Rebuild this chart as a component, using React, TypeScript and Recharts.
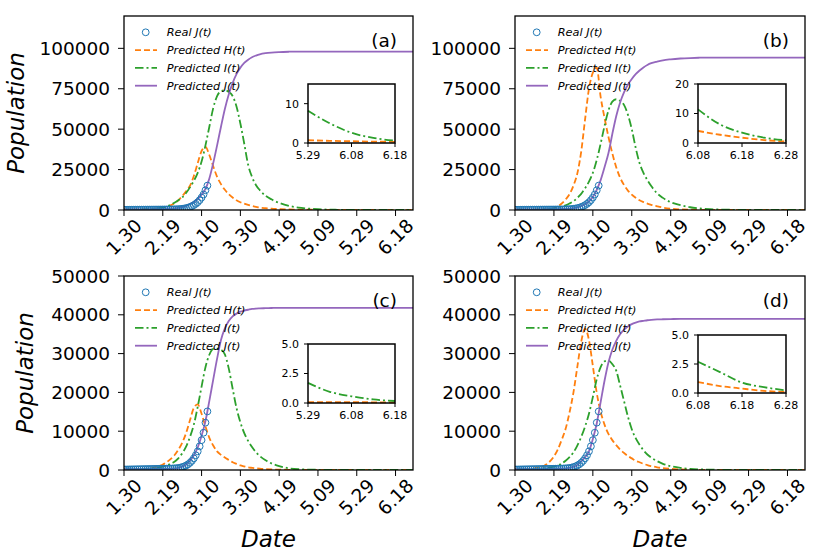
import React from 'react';
import { ComposedChart, Line, Scatter, XAxis, YAxis } from 'recharts';

// day index from 1.30 (Jan 30)
const DAYS = [0, 4, 8, 12, 16, 20, 22, 24, 26, 28, 30, 32, 34, 36, 38, 40, 42, 44, 46, 48, 50, 52, 54, 56, 58, 60, 62, 64, 66, 68, 70, 73, 76, 80, 85, 90, 95, 100, 110, 120, 130, 140, 149];
const X_TICKS = [0, 20, 40, 60, 80, 100, 120, 140];
const X_TICK_LABELS = ['1.30', '2.19', '3.10', '3.30', '4.19', '5.09', '5.29', '6.18'];

const REAL_DAYS = [0, 1, 2, 3, 4, 5, 6, 7, 8, 9, 10, 11, 12, 13, 14, 15, 16, 17, 18, 19, 20, 21, 22, 23, 24, 25, 26, 27, 28, 29, 30, 31, 32, 33, 34, 35, 36, 37, 38, 39, 40, 41, 42, 43];
const REAL_J = [130, 140, 150, 160, 170, 180, 190, 200, 210, 220, 230, 240, 250, 260, 270, 280, 290, 300, 310, 320, 330, 340, 350, 360, 380, 400, 430, 470, 530, 620, 750, 920, 1150, 1450, 1850, 2350, 3000, 3800, 4800, 6100, 7700, 9600, 12200, 15100];

// panel (a)
const A_H = [300, 350, 400, 500, 800, 1400, 2000, 2900, 4200, 6000, 8500, 11500, 15000, 21000, 29000, 36500, 39000, 34000, 27000, 20500, 16000, 12500, 9800, 7700, 6000, 4800, 3900, 3100, 2500, 2000, 1500, 1100, 800, 550, 350, 250, 180, 100, 20, 0.7, 0.45, 0.3, 0.25];
const A_I = [200, 250, 300, 450, 800, 1500, 2200, 3200, 4500, 6000, 7800, 10500, 14000, 18000, 23000, 30000, 40000, 51500, 63000, 70500, 73500, 74000, 73000, 70500, 64000, 53500, 41000, 28000, 20500, 15500, 12300, 8800, 6600, 4400, 2600, 1500, 900, 500, 120, 8.2, 2.6, 0.6, 0.3];
const A_J = [300, 320, 350, 400, 450, 550, 650, 800, 1000, 1300, 1800, 2600, 3700, 5000, 6800, 9500, 13000, 19500, 29000, 40000, 51500, 62500, 71500, 78500, 84000, 88000, 91000, 93000, 94500, 95500, 96300, 97000, 97400, 97700, 97900, 98000, 98000, 98000, 98000, 98000, 98000, 98000, 98000];

// panel (b)
const B_H = [200, 220, 250, 300, 400, 1200, 2300, 4000, 6500, 9800, 15000, 22500, 36000, 56000, 75000, 85000, 88000, 70000, 57000, 45300, 35000, 26500, 20000, 15500, 12000, 9500, 7600, 6000, 4900, 4000, 3200, 2300, 1500, 800, 400, 200, 100, 60, 25, 10, 4.1, 1.8, 0.5];
const B_I = [150, 170, 200, 300, 500, 900, 1400, 2100, 2900, 4000, 5400, 7500, 10000, 13500, 17500, 23000, 31000, 41000, 52000, 61500, 67000, 68500, 67500, 65000, 59000, 50000, 38500, 29000, 23000, 18500, 14800, 10300, 7500, 4800, 3000, 1700, 1000, 550, 150, 40, 11.4, 3.5, 0.9];
const B_J = [300, 320, 350, 380, 420, 500, 560, 640, 750, 880, 1100, 1600, 2500, 3600, 5300, 8000, 12500, 18500, 26500, 35100, 47000, 58000, 66500, 72800, 77500, 81000, 84000, 86300, 88200, 89700, 90800, 91800, 92600, 93200, 93700, 94000, 94200, 94300, 94300, 94300, 94300, 94300, 94300];

// panel (c)
const C_H = [150, 170, 200, 300, 700, 1400, 2000, 2800, 3800, 5200, 7000, 9500, 12800, 16000, 16900, 14500, 11200, 8300, 6300, 4800, 3900, 3200, 2600, 2000, 1600, 1200, 950, 700, 550, 420, 320, 220, 150, 90, 50, 25, 12, 6, 1, 0.08, 0.07, 0.06, 0.06];
const C_I = [150, 170, 200, 280, 500, 900, 1200, 1600, 2100, 3000, 4300, 6000, 8500, 11700, 16300, 21500, 26500, 29700, 31200, 31300, 31000, 29800, 26200, 21000, 16000, 12300, 9500, 7500, 5900, 4600, 3600, 2500, 1700, 1000, 450, 200, 100, 50, 15, 1.7, 0.57, 0.17, 0.08];
const C_J = [200, 210, 220, 240, 260, 280, 300, 320, 350, 550, 850, 1400, 2400, 3800, 5800, 8800, 12600, 17800, 23300, 28700, 33500, 36500, 38400, 39600, 40300, 40800, 41100, 41300, 41500, 41600, 41650, 41700, 41750, 41800, 41800, 41800, 41800, 41800, 41800, 41800, 41800, 41800, 41800];

// panel (d)
const D_H = [200, 250, 350, 600, 1400, 3500, 5300, 7800, 10600, 14800, 19900, 26500, 33000, 36400, 33500, 26800, 19900, 15000, 11700, 9300, 7700, 6400, 5300, 4400, 3600, 3000, 2400, 2000, 1600, 1250, 1000, 700, 480, 300, 150, 80, 40, 20, 7, 2.5, 0.95, 0.38, 0.1];
const D_I = [150, 180, 220, 320, 520, 850, 1200, 1700, 2400, 3300, 4500, 6300, 8500, 11200, 14500, 18800, 23400, 26500, 28000, 28200, 27300, 25600, 21800, 17800, 13800, 10500, 8200, 6500, 5100, 4000, 3200, 2300, 1600, 1000, 550, 300, 160, 90, 25, 8, 2.7, 0.9, 0.25];
const D_J = [200, 210, 220, 240, 260, 290, 310, 340, 380, 520, 800, 1300, 2200, 3300, 4800, 8000, 12000, 17500, 23000, 27700, 31000, 33300, 35000, 36200, 37000, 37600, 38000, 38300, 38450, 38600, 38700, 38800, 38850, 38900, 38950, 38950, 38950, 38950, 38950, 38950, 38950, 38950, 38950];

// insets
const INSET_EARLY_DAYS = [120, 125, 130, 135, 140];
const INSET_EARLY_LABELS = ['5.29', '6.08', '6.18'];
const INSET_LATE_DAYS = [130, 135, 140, 145, 150];
const INSET_LATE_LABELS = ['6.08', '6.18', '6.28'];
const INSET_A_H = [0.7, 0.55, 0.45, 0.35, 0.3];
const INSET_A_I = [8.2, 5.0, 2.6, 1.3, 0.6];
const INSET_B_H = [4.1, 2.8, 1.8, 1.0, 0.5];
const INSET_B_I = [11.4, 6.3, 3.5, 1.8, 0.9];
const INSET_C_H = [0.08, 0.07, 0.07, 0.06, 0.06];
const INSET_C_I = [1.71, 0.95, 0.57, 0.3, 0.17];
const INSET_D_H = [0.95, 0.6, 0.38, 0.18, 0.09];
const INSET_D_I = [2.69, 1.8, 0.9, 0.5, 0.23];

const LEGEND_LABELS = ['Real J(t)', 'Predicted H(t)', 'Predicted I(t)', 'Predicted J(t)'];

const BLUE = '#1f77b4';
const ORANGE = '#ff7f0e';
const GREEN = '#2ca02c';
const PURPLE = '#9467bd';
const DASH = '6 3';
const DASHDOT = '8.5 3 2 3';
const FONT = 'DejaVu Sans, sans-serif';
const PLOT_H = 194;

const realRows = REAL_DAYS.map((d, i) => ({ day: d, real: REAL_J[i] }));

const panels = [
  { id: 'a', left: 124, top: 16, w: 289, yMax: 120000, yTicks: [0, 25000, 50000, 75000, 100000], H: A_H, I: A_I, J: A_J,
    inset: { left: 308, top: 84, w: 87, h: 59, days: INSET_EARLY_DAYS, labels: INSET_EARLY_LABELS, H: INSET_A_H, I: INSET_A_I, yMax: 15, yTicks: [0, 10], fmt: (v: number) => String(v) },
    yLabel: { x: 23.5, y: 113 } },
  { id: 'b', left: 515, top: 16, w: 290, yMax: 120000, yTicks: [0, 25000, 50000, 75000, 100000], H: B_H, I: B_I, J: B_J,
    inset: { left: 698, top: 84, w: 88, h: 59, days: INSET_LATE_DAYS, labels: INSET_LATE_LABELS, H: INSET_B_H, I: INSET_B_I, yMax: 20, yTicks: [0, 10, 20], fmt: (v: number) => String(v) } },
  { id: 'c', left: 124, top: 276, w: 289, yMax: 50000, yTicks: [0, 10000, 20000, 30000, 40000, 50000], H: C_H, I: C_I, J: C_J,
    inset: { left: 308, top: 344, w: 87, h: 59, days: INSET_EARLY_DAYS, labels: INSET_EARLY_LABELS, H: INSET_C_H, I: INSET_C_I, yMax: 5, yTicks: [0, 2.5, 5], fmt: (v: number) => v.toFixed(1) },
    yLabel: { x: 33, y: 373 }, xLabel: true },
  { id: 'd', left: 515, top: 276, w: 290, yMax: 50000, yTicks: [0, 10000, 20000, 30000, 40000, 50000], H: D_H, I: D_I, J: D_J,
    inset: { left: 698, top: 335, w: 88, h: 58, days: INSET_LATE_DAYS, labels: INSET_LATE_LABELS, H: INSET_D_H, I: INSET_D_I, yMax: 5, yTicks: [0, 2.5, 5], fmt: (v: number) => v.toFixed(1) },
    xLabel: true },
];

const DateTick = (props: any) => {
  const { x, y, payload } = props;
  const label = X_TICK_LABELS[X_TICKS.indexOf(payload.value)];
  return (
    <g transform={`translate(${x},${y + 21})`}>
      <text transform="rotate(-45)" textAnchor="middle" dominantBaseline="central" fontSize={18.5} fontFamily={FONT} fill="#000">
        {label}
      </text>
    </g>
  );
};

const RealDot = (props: any) => (
  <circle cx={props.cx} cy={props.cy} r={3.4} fill="none" stroke={BLUE} strokeWidth={1} />
);

function MainPanel({ p }: { p: any }) {
  const rows = DAYS.map((d, i) => ({ day: d, h: p.H[i], inf: p.I[i], j: p.J[i] }));
  return (
    <div style={{ position: 'absolute', left: p.left - 124, top: p.top - 16 }}>
      <ComposedChart width={124 + p.w + 7} height={16 + PLOT_H + 60} data={rows} margin={{ top: 16, right: 7, left: 0, bottom: 0 }}>
        <XAxis dataKey="day" type="number" domain={[0, 149]} ticks={X_TICKS} interval={0} tick={<DateTick />}
          tickSize={6} tickMargin={0} axisLine={false} tickLine={{ stroke: '#000' }} height={60} allowDataOverflow />
        <YAxis type="number" domain={[0, p.yMax]} ticks={p.yTicks} interval={0} width={124} tickSize={6} tickMargin={8}
          axisLine={false} tickLine={{ stroke: '#000' }} tick={{ fill: '#000', fontSize: 18.5, fontFamily: FONT }} allowDataOverflow />
        <Scatter data={realRows} dataKey="real" shape={RealDot} isAnimationActive={false} />
        <Line type="monotone" dataKey="h" stroke={ORANGE} strokeWidth={1.8} strokeDasharray={DASH} dot={false} activeDot={false} isAnimationActive={false} />
        <Line type="monotone" dataKey="inf" stroke={GREEN} strokeWidth={1.8} strokeDasharray={DASHDOT} dot={false} activeDot={false} isAnimationActive={false} />
        <Line type="monotone" dataKey="j" stroke={PURPLE} strokeWidth={1.8} dot={false} activeDot={false} isAnimationActive={false} />
      </ComposedChart>
    </div>
  );
}

function InsetPanel({ q }: { q: any }) {
  const rows = q.days.map((d: number, i: number) => ({ day: d, h: q.H[i], inf: q.I[i] }));
  const d0 = q.days[0];
  const d1 = q.days[q.days.length - 1];
  const ticks = [d0, (d0 + d1) / 2, d1];
  return (
    <>
      <div style={{ position: 'absolute', left: q.left, top: q.top, width: q.w, height: q.h, background: '#fff' }} />
      <div style={{ position: 'absolute', left: q.left - 40, top: q.top - 10 }}>
        <ComposedChart width={40 + q.w + 18} height={10 + q.h + 24} data={rows} margin={{ top: 10, right: 18, left: 0, bottom: 0 }}>
          <XAxis dataKey="day" type="number" domain={[d0, d1]} ticks={ticks} interval={0} tickFormatter={(v: number) => q.labels[ticks.indexOf(v)]}
            tickSize={4} tickMargin={4} axisLine={false} tickLine={{ stroke: '#000' }} height={24}
            tick={{ fill: '#000', fontSize: 11, fontFamily: FONT }} />
          <YAxis type="number" domain={[0, q.yMax]} ticks={q.yTicks} interval={0} width={40} tickSize={4} tickMargin={5}
            tickFormatter={q.fmt} axisLine={false} tickLine={{ stroke: '#000' }} tick={{ fill: '#000', fontSize: 11, fontFamily: FONT }} />
          <Line type="monotone" dataKey="h" stroke={ORANGE} strokeWidth={1.8} strokeDasharray={DASH} dot={false} activeDot={false} isAnimationActive={false} />
          <Line type="monotone" dataKey="inf" stroke={GREEN} strokeWidth={1.8} strokeDasharray={DASHDOT} dot={false} activeDot={false} isAnimationActive={false} />
        </ComposedChart>
      </div>
    </>
  );
}

function Overlay() {
  return (
    <svg width={830} height={554} style={{ position: 'absolute', left: 0, top: 0, pointerEvents: 'none' }} fontFamily={FONT}>
      {panels.map((p: any) => (
        <g key={p.id}>
          <rect x={p.left} y={p.top} width={p.w} height={PLOT_H} fill="none" stroke="#000" strokeWidth={1.3} />
          <rect x={p.inset.left} y={p.inset.top} width={p.inset.w} height={p.inset.h} fill="none" stroke="#000" strokeWidth={1.5} />
          <text x={p.left + p.w - 16} y={p.top + 30.5} textAnchor="end" fontSize={18.5} fill="#000">({p.id})</text>
          {LEGEND_LABELS.map((label, i) => {
            const cy = p.top + 16.3 + i * 17.8;
            const lx = p.left + 11;
            let marker;
            if (i === 0) marker = <circle cx={p.left + 21.7} cy={cy} r={3.4} fill="none" stroke={BLUE} strokeWidth={1} />;
            else if (i === 1) marker = <line x1={lx} x2={lx + 22} y1={cy} y2={cy} stroke={ORANGE} strokeWidth={1.8} strokeDasharray={DASH} />;
            else if (i === 2) marker = <line x1={lx} x2={lx + 22} y1={cy} y2={cy} stroke={GREEN} strokeWidth={1.8} strokeDasharray={DASHDOT} />;
            else marker = <line x1={lx} x2={lx + 22} y1={cy} y2={cy} stroke={PURPLE} strokeWidth={1.8} />;
            return (
              <g key={label}>
                {marker}
                <text x={p.left + 42.7} y={cy + 4} fontSize={11.3} fontStyle="italic" fill="#000">{label}</text>
              </g>
            );
          })}
          {p.yLabel && (
            <text transform={`translate(${p.yLabel.x},${p.yLabel.y}) rotate(-90)`} textAnchor="middle" fontSize={23} fontStyle="italic" fill="#000">Population</text>
          )}
          {p.xLabel && (
            <text x={p.left + p.w / 2} y={547} textAnchor="middle" fontSize={23} fontStyle="italic" fill="#000">Date</text>
          )}
        </g>
      ))}
    </svg>
  );
}

export default function App() {
  return (
    <div style={{ position: 'absolute', left: 0, top: 0, width: 830, height: 554, background: '#fff', fontFamily: FONT, overflow: 'hidden' }}>
      {panels.map((p) => <MainPanel key={p.id} p={p} />)}
      {panels.map((p) => <InsetPanel key={'in' + p.id} q={p.inset} />)}
      <Overlay />
    </div>
  );
}
